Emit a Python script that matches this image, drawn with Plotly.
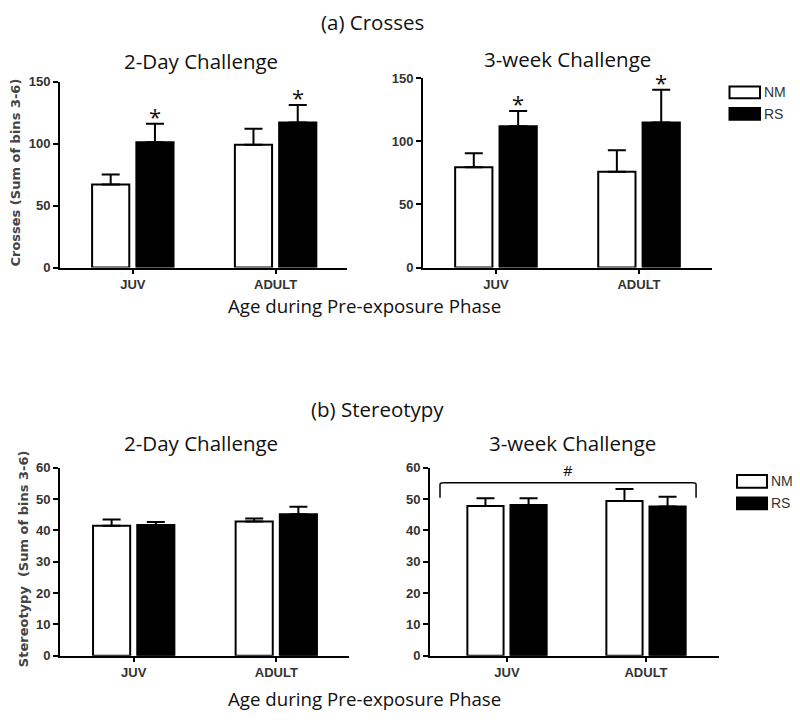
import plotly.graph_objects as go

# ---------------- data ----------------
categories = ["JUV", "ADULT"]
groups = ["NM", "RS"]

# (a) Crosses
cross_2day_nm = [67, 99]
cross_2day_nm_err = [8, 13]
cross_2day_rs = [101, 117]
cross_2day_rs_err = [15, 14]

cross_3wk_nm = [79.5, 76]
cross_3wk_nm_err = [11, 17]
cross_3wk_rs = [112, 115]
cross_3wk_rs_err = [12, 26]

# (b) Stereotypy
stereo_2day_nm = [41.5, 42.8]
stereo_2day_nm_err = [2.0, 1.0]
stereo_2day_rs = [41.7, 45.1]
stereo_2day_rs_err = [1.0, 2.4]

stereo_3wk_nm = [47.8, 49.4]
stereo_3wk_nm_err = [2.4, 3.8]
stereo_3wk_rs = [48.1, 47.6]
stereo_3wk_rs_err = [2.1, 3.1]

cross_ticks = [0, 50, 100, 150]
stereo_ticks = [0, 10, 20, 30, 40, 50, 60]

cross_2day_star = [True, True]
cross_3wk_star = [True, True]

# ---------------- style ----------------
PAGE_OFF = 8            # default body margin of the page
W, H = 800 - 2 * PAGE_OFF, 720 - 2 * PAGE_OFF
TITLE_FONT = "Open Sans"
TICK_FONT = "Liberation Sans"
BAR_OFFSET = 0.155


def px(x):
    return (x - PAGE_OFF) / W


def py(y):
    return 1 - (y - PAGE_OFF) / H


fig = go.Figure()

panels = [
    ("1", cross_2day_nm, cross_2day_nm_err, cross_2day_rs, cross_2day_rs_err,
     (60, 347), (266, 76), (-0.51, 1.50), (0, 150), cross_ticks),
    ("2", cross_3wk_nm, cross_3wk_nm_err, cross_3wk_rs, cross_3wk_rs_err,
     (423, 712), (266, 72.7), (-0.51, 1.51), (0, 150), cross_ticks),
    ("3", stereo_2day_nm, stereo_2day_nm_err, stereo_2day_rs, stereo_2day_rs_err,
     (60, 349), (662.7, 470.5), (-0.517, 1.51), (0, 60), stereo_ticks),
    ("4", stereo_3wk_nm, stereo_3wk_nm_err, stereo_3wk_rs, stereo_3wk_rs_err,
     (430, 719), (662.7, 470.5), (-0.554, 1.525), (0, 60), stereo_ticks),
]

xpos = list(range(len(categories)))
layout_axes = {}
tickfont = dict(family=TICK_FONT, size=13, color="#333", weight="bold")
for name, nm, nm_e, rs, rs_e, xd, yd, xr, yr, ticks in panels:
    xa = "x" if name == "1" else "x" + name
    ya = "y" if name == "1" else "y" + name
    for vals, errs, fill, grp in ((nm, nm_e, "white", "NM"), (rs, rs_e, "black", "RS")):
        fig.add_trace(go.Bar(
            x=xpos, y=vals, name=grp, xaxis=xa, yaxis=ya, showlegend=False,
            marker=dict(color=fill, line=dict(color="black", width=2)),
            error_y=dict(type="data", array=errs, arrayminus=[0] * len(errs),
                         symmetric=False, color="black", thickness=2, width=9),
        ))
    xkey = "xaxis" if name == "1" else "xaxis" + name
    ykey = "yaxis" if name == "1" else "yaxis" + name
    layout_axes[xkey] = dict(
        domain=[px(xd[0]), px(xd[1])], range=list(xr), anchor=ya,
        tickmode="array", tickvals=xpos, ticktext=categories,
        showline=True, linecolor="black", linewidth=2,
        ticks="outside", ticklen=4, tickwidth=2, tickcolor="black",
        showgrid=False, zeroline=False, fixedrange=True, tickfont=tickfont,
    )
    layout_axes[ykey] = dict(
        domain=[py(yd[0]), py(yd[1])], range=list(yr), anchor=xa,
        tickmode="array", tickvals=ticks,
        showline=True, linecolor="black", linewidth=2,
        ticks="outside", ticklen=5, tickwidth=2, tickcolor="black",
        showgrid=False, zeroline=False, fixedrange=True, tickfont=tickfont,
    )

annotations = []


def txt(text, x, y, size=20.5, family=TITLE_FONT, color="#111", weight=None, **kw):
    f = dict(family=family, size=size, color=color)
    if weight:
        f["weight"] = weight
    d = dict(text=text, x=px(x), y=py(y), xref="paper", yref="paper",
             showarrow=False, font=f, xanchor="center", yanchor="middle")
    d.update(kw)
    annotations.append(d)


# titles
txt("(a) Crosses", 372, 15)
txt("2-Day Challenge", 201, 55)
txt("3-week Challenge", 567, 53)
txt("Age during Pre-exposure Phase", 364, 305, size=18.7)
txt("(b) Stereotypy", 377, 411)
txt("2-Day Challenge", 201, 445)
txt("3-week Challenge", 572, 445)
txt("Age during Pre-exposure Phase", 364, 706, size=18.7)

# y-axis titles
txt("Crosses (Sum of bins 3-6)", 16, 169, size=13, family="DejaVu Sans",
    color="#444", weight="bold", textangle=-90)
txt("Stereotypy  (Sum of bins 3-6)", 23, 564, size=13, family="DejaVu Sans",
    color="#444", weight="bold", textangle=-90)

# stars on RS bars
for xa, ya, rs, rs_e, stars in (("x", "y", cross_2day_rs, cross_2day_rs_err, cross_2day_star),
                                ("x2", "y2", cross_3wk_rs, cross_3wk_rs_err, cross_3wk_star)):
    for i, (v, e, s) in enumerate(zip(rs, rs_e, stars)):
        if s:
            annotations.append(dict(
                text="*", x=xpos[i] + BAR_OFFSET, y=v + e, xref=xa, yref=ya,
                showarrow=False, yanchor="middle", xanchor="center", yshift=8,
                font=dict(family=TITLE_FONT, size=22, color="#111")))

# '#' above bracket in panel 4
bracket_left, bracket_right = -0.482, 1.36
bracket_top, bracket_end = 55.2, 50.4
annotations.append(dict(text="#", x=(bracket_left + bracket_right) / 2, y=bracket_top,
                        xref="x4", yref="y4", showarrow=False, yanchor="bottom",
                        yshift=1, font=dict(family=TITLE_FONT, size=15, color="#111")))

shapes = []
dx, dy = 0.03, 0.5
path = (f"M {bracket_left},{bracket_end} L {bracket_left},{bracket_top - dy} "
        f"Q {bracket_left},{bracket_top} {bracket_left + dx},{bracket_top} "
        f"L {bracket_right - dx},{bracket_top} "
        f"Q {bracket_right},{bracket_top} {bracket_right},{bracket_top - dy} "
        f"L {bracket_right},{bracket_end}")
shapes.append(dict(type="path", path=path, xref="x4", yref="y4",
                   line=dict(color="black", width=1.5)))

# legends (manual)
for (bx0, bx1), rows in (((729.5, 760), [(81, 93), (103, 115)]),
                         ((737, 767), [(478, 491), (501, 513)])):
    for grp, (y0, y1), fill in zip(groups, rows, ["white", "black"]):
        shapes.append(dict(type="rect", xref="paper", yref="paper",
                           x0=px(bx0), x1=px(bx1), y0=py(y1), y1=py(y0),
                           fillcolor=fill, line=dict(color="black", width=2)))
        txt(grp, bx1 + 1.5, (y0 + y1) / 2, size=14, family=TICK_FONT,
            color="#333", xanchor="left")

fig.update_layout(
    width=W, height=H, margin=dict(l=0, r=0, t=0, b=0),
    paper_bgcolor="white", plot_bgcolor="white",
    barmode="group", bargap=0.38, bargroupgap=0.16,
    annotations=annotations, shapes=shapes, showlegend=False,
    **layout_axes,
)

fig.write_html("out.html")
